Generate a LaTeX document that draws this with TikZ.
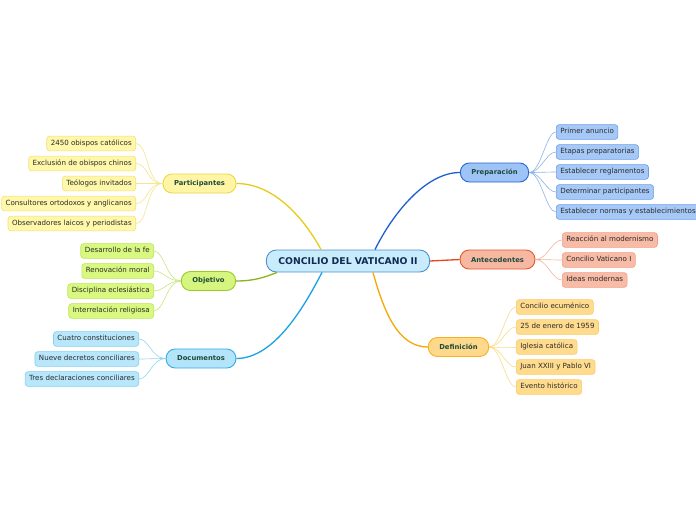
\documentclass[tikz,border=0pt]{standalone}
\usepackage{fontspec}
\setmainfont{DejaVu Sans}
\usepackage{xcolor}
\usepackage{tikz}
\usetikzlibrary{positioning,calc}

\definecolor{rootF}{HTML}{C8ECFB}\definecolor{rootD}{HTML}{4E91CC}\definecolor{rootT}{HTML}{102A50}
\definecolor{mainT}{HTML}{1D4B3A}\definecolor{leafT}{HTML}{2A2A2A}
\definecolor{ylwF}{HTML}{FFF5A5}\definecolor{ylwD}{HTML}{EAD84A}\definecolor{ylwL}{HTML}{E6CC1A}
\definecolor{ylwLF}{HTML}{FFF7AA}\definecolor{ylwLD}{HTML}{F3E07A}\definecolor{ylwLL}{HTML}{F5E690}
\definecolor{grnF}{HTML}{D5F57F}\definecolor{grnD}{HTML}{9CC925}\definecolor{grnL}{HTML}{8CB51C}
\definecolor{grnLF}{HTML}{D8F880}\definecolor{grnLD}{HTML}{BEE45A}\definecolor{grnLL}{HTML}{C8E67E}
\definecolor{bluF}{HTML}{B3E4FA}\definecolor{bluD}{HTML}{36ABE6}\definecolor{bluL}{HTML}{19A2E6}
\definecolor{bluLF}{HTML}{B8E6FA}\definecolor{bluLD}{HTML}{85CFF0}\definecolor{bluLL}{HTML}{92D5F2}
\definecolor{prpF}{HTML}{9EC4F7}\definecolor{prpD}{HTML}{2566D4}\definecolor{prpL}{HTML}{1E5FD2}
\definecolor{prpLF}{HTML}{A5C8F7}\definecolor{prpLD}{HTML}{6C9DEB}\definecolor{prpLL}{HTML}{8CB2EE}
\definecolor{antF}{HTML}{F6B8A2}\definecolor{antD}{HTML}{E8552A}\definecolor{antL}{HTML}{E8451A}
\definecolor{antLF}{HTML}{F8BBA6}\definecolor{antLD}{HTML}{F0A088}\definecolor{antLL}{HTML}{F5B39E}
\definecolor{defF}{HTML}{FFD98B}\definecolor{defD}{HTML}{F4B124}\definecolor{defL}{HTML}{F5A900}
\definecolor{defLF}{HTML}{FFDB8D}\definecolor{defLD}{HTML}{F9CB66}\definecolor{defLL}{HTML}{FADB8A}

\begin{document}
\begin{tikzpicture}[x=1pt, y=-1pt,
  rootnode/.style={draw=rootD, fill=rootF, line width=0.9pt, rounded corners=10pt,
    minimum height=22pt, inner xsep=12pt, text=rootT, font=\fontsize{9.3}{10}\selectfont\bfseries},
  mainnode/.style={draw, line width=0.9pt, rounded corners=9pt, minimum height=19pt,
    inner xsep=11pt, text=mainT, font=\fontsize{6.8}{8}\selectfont\bfseries},
  leaf/.style={draw, line width=0.6pt, rounded corners=3pt, text height=5.2pt, text depth=1.6pt,
    inner ysep=4pt, inner xsep=4pt, text=leafT, font=\fontsize{7.1}{8}\selectfont},
  trunk/.style={line width=1.3pt},
  twig/.style={line width=0.6pt}]

  \fill[white] (0,0) rectangle (696,520);
  \useasboundingbox (0,0) rectangle (696,520);

  % Noeud central
  \node[rootnode] (root) at (348,261) {CONCILIO DEL VATICANO II};

  % Branches principales
  \node[mainnode, fill=ylwF, draw=ylwD] (part) at (199.5,183.5) {Participantes};
  \node[mainnode, fill=grnF, draw=grnD] (obj) at (208.5,281) {Objetivo};
  \node[mainnode, fill=bluF, draw=bluD] (doc) at (201,358.5) {Documentos};
  \node[mainnode, fill=prpF, draw=prpD] (prep) at (494.5,172.5) {Preparación};
  \node[mainnode, fill=antF, draw=antD] (ante) at (497.5,259.5) {Antecedentes};
  \node[mainnode, fill=defF, draw=defD] (defi) at (458.5,347) {Definición};

  \draw[trunk, ylwL] (part.east) .. controls (275,183.5) and (305,220) .. ($(root.north)+(-27,0)$);
  \draw[trunk, grnL] (obj.east) .. controls (255,281) and (265,277) .. ($(root.south)+(-71,0)$);
  \draw[trunk, bluL] (doc.east) .. controls (275,358.5) and (305,305) .. ($(root.south)+(-26,0)$);
  \draw[trunk, prpL] (prep.west) .. controls (425,172.5) and (392,215) .. ($(root.north)+(27,0)$);
  \draw[trunk, antL] (root.east) -- (ante.west);
  \draw[trunk, defL] ($(root.south)+(25,0)$) .. controls (384,312) and (398,347) .. (defi.west);

  % Participantes
  \foreach \t [count=\i] in {2450 obispos católicos, Exclusión de obispos chinos,
      Teólogos invitados, Consultores ortodoxos y anglicanos, Observadores laicos y periodistas} {
    \node[leaf, fill=ylwLF, draw=ylwLD, anchor=east] (part\i) at (136,123.5+20*\i) {\t};
    \draw[twig, ylwLL] (part.west) .. controls +(-16,0) and +(12,0) .. (part\i.east);
  }

  % Objetivo
  \foreach \t [count=\i] in {Desarrollo de la fe, Renovación moral,
      Disciplina eclesiástica, Interrelación religiosa} {
    \node[leaf, fill=grnLF, draw=grnLD, anchor=east] (obj\i) at (154,231+20*\i) {\t};
    \draw[twig, grnLL] (obj.west) .. controls +(-14,0) and +(10,0) .. (obj\i.east);
  }

  % Documentos
  \foreach \t [count=\i] in {Cuatro constituciones, Nueve decretos conciliares,
      Tres declaraciones conciliares} {
    \node[leaf, fill=bluLF, draw=bluLD, anchor=east] (doc\i) at (139,319+20*\i) {\t};
    \draw[twig, bluLL] (doc.west) .. controls +(-14,0) and +(10,0) .. (doc\i.east);
  }

  % Preparacion
  \foreach \t [count=\i] in {Primer anuncio, Etapas preparatorias, Establecer reglamentos,
      Determinar participantes, Establecer normas y establecimientos} {
    \node[leaf, fill=prpLF, draw=prpLD, anchor=west] (prep\i) at (556,112+20*\i) {\t};
    \draw[twig, prpLL] (prep.east) .. controls +(12,0) and +(-10,0) .. (prep\i.west);
  }

  % Antecedentes
  \foreach \t [count=\i] in {Reacción al modernismo, Concilio Vaticano I, Ideas modernas} {
    \node[leaf, fill=antLF, draw=antLD, anchor=west] (ante\i) at (562,220+20*\i) {\t};
    \draw[twig, antLL] (ante.east) .. controls +(12,0) and +(-10,0) .. (ante\i.west);
  }

  % Definicion
  \foreach \t [count=\i] in {Concilio ecuménico, 25 de enero de 1959, Iglesia católica,
      Juan XXIII y Pablo VI, Evento histórico} {
    \node[leaf, fill=defLF, draw=defLD, anchor=west] (defi\i) at (516,287+20*\i) {\t};
    \draw[twig, defLL] (defi.east) .. controls +(12,0) and +(-10,0) .. (defi\i.west);
  }
\end{tikzpicture}
\end{document}
